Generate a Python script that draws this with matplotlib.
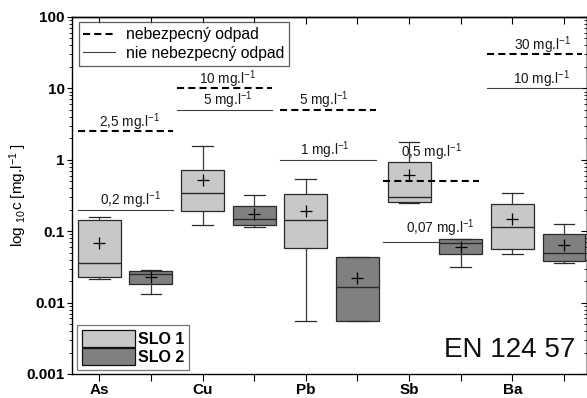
import matplotlib
matplotlib.use("Agg")
import matplotlib.pyplot as plt
from matplotlib.lines import Line2D
from matplotlib.patches import Patch
from matplotlib.ticker import NullFormatter

plt.rcParams['font.family'] = ['Liberation Sans', 'DejaVu Sans']
plt.rcParams['mathtext.fontset'] = 'custom'
plt.rcParams['mathtext.rm'] = 'Liberation Sans'
plt.rcParams['mathtext.it'] = 'Liberation Sans:italic'
plt.rcParams['mathtext.bf'] = 'Liberation Sans:bold'

# Leachate concentrations (mg/l), EN 12457 test
elements = ["As", "Cu", "Pb", "Sb", "Ba"]

slo1_whislo = [0.0216, 0.123, 0.00547, 0.25, 0.048]
slo1_q1 = [0.0226, 0.19, 0.0587, 0.259, 0.0558]
slo1_med = [0.0359, 0.346, 0.1435, 0.30, 0.1156]
slo1_q3 = [0.142, 0.72, 0.329, 0.917, 0.24]
slo1_whishi = [0.157, 1.58, 0.538, 1.8, 0.343]
slo1_mean = [0.0676, 0.516, 0.194, 0.61, 0.147]

slo2_whislo = [0.0131, 0.1135, 0.00547, 0.0318, 0.0359]
slo2_q1 = [0.0184, 0.121, 0.00547, 0.0474, 0.0387]
slo2_med = [0.025, 0.148, 0.0165, 0.0676, 0.0496]
slo2_q3 = [0.0277, 0.223, 0.0435, 0.0778, 0.0923]
slo2_whishi = [0.0283, 0.321, 0.0435, 0.079, 0.127]
slo2_mean = [0.0231, 0.172, 0.0222, 0.0607, 0.0635]

# Landfill acceptance limits (mg/l)
limit_hazardous = [2.5, 10, 5, 0.5, 30]
limit_nonhazardous = [0.2, 5, 1, 0.07, 10]
limit_hazardous_text = ["2,5", "10", "5", "0,5", "30"]
limit_nonhazardous_text = ["0,2", "5", "1", "0,07", "10"]

ytick_values = [0.001, 0.01, 0.1, 1, 10, 100]
ytick_labels = ["0.001", "0.01", "0.1", "1", "10", "100"]

W, H = 587, 398
fig = plt.figure(figsize=(W / 100, H / 100), dpi=100)
ax = fig.add_axes([71.5 / W, 1 - 374 / H, 515 / W, 357 / H])

pos1 = [2 * i for i in range(len(elements))]
pos2 = [2 * i + 1 for i in range(len(elements))]


def make_stats(lo, q1, med, q3, hi, mean):
    return [dict(whislo=a, q1=b, med=c, q3=d, whishi=e, mean=f, fliers=[])
            for a, b, c, d, e, f in zip(lo, q1, med, q3, hi, mean)]


edge = '#2a2a2a'
common = dict(widths=0.83, capwidths=0.4, showmeans=True, patch_artist=True,
              manage_ticks=False,
              medianprops=dict(color=edge, linewidth=1.0),
              whiskerprops=dict(color='#3a3a3a', linewidth=0.9),
              capprops=dict(color='#2a2a2a', linewidth=0.9),
              meanprops=dict(marker='+', markeredgecolor='black',
                             markersize=9, markeredgewidth=0.9))

ax.bxp(make_stats(slo1_whislo, slo1_q1, slo1_med, slo1_q3, slo1_whishi, slo1_mean),
       positions=pos1,
       boxprops=dict(facecolor='#c8c8c8', edgecolor=edge, linewidth=0.9),
       **common)
ax.bxp(make_stats(slo2_whislo, slo2_q1, slo2_med, slo2_q3, slo2_whishi, slo2_mean),
       positions=pos2,
       boxprops=dict(facecolor='#808080', edgecolor=edge, linewidth=0.9),
       **common)

# limit lines with their labels
seg_start = [-0.42, 1.5, 3.5, 5.5, 7.5]
seg_len = 1.85
label_x = [0.58, 2.48, 4.35, 6.44, 8.58]
label_x_nh = [0.6, 2.48, 4.36, 6.6, 8.56]
haz_offset = [3.3, 3.3, 3.3, 17.5, 3.3]
nh_offset = [3.3, 3.3, 3.3, 6.5, 3.3]
dash = (0, (3.4, 2.0))
for i in range(len(elements)):
    x0, x1 = seg_start[i], seg_start[i] + seg_len
    ax.plot([x0, x1], [limit_hazardous[i]] * 2, color='black', lw=1.5,
            linestyle=dash, zorder=4, clip_on=True)
    ax.plot([x0, x1], [limit_nonhazardous[i]] * 2, color='#404040', lw=0.8,
            zorder=1.5)
    ax.annotate(f"{limit_hazardous_text[i]} mg.l$^{{-1}}$",
                xy=(label_x[i], limit_hazardous[i]), xytext=(0, haz_offset[i]),
                textcoords='offset points', ha='center', va='baseline',
                fontsize=9.8, color='#1a1a1a', zorder=5)
    ax.annotate(f"{limit_nonhazardous_text[i]} mg.l$^{{-1}}$",
                xy=(label_x_nh[i], limit_nonhazardous[i]), xytext=(0, nh_offset[i]),
                textcoords='offset points', ha='center', va='baseline',
                fontsize=9.8, color='#1a1a1a', zorder=5)

ax.set_yscale('log')
ax.set_ylim(0.001, 100)
ax.set_xlim(-0.538, 9.436)

ax.set_yticks(ytick_values)
ax.set_yticklabels(ytick_labels, fontsize=11, fontweight='bold')
ax.yaxis.set_minor_formatter(NullFormatter())
ax.tick_params(axis='y', which='major', direction='out', length=3.8, width=0.8, pad=1)
ax.tick_params(axis='y', which='minor', direction='out', length=1.9, width=0.6)

xt_labels = []
for e in elements:
    xt_labels += [e, ""]
ax.set_xticks(range(len(xt_labels)))
ax.set_xticklabels(xt_labels, fontsize=11, fontweight='bold')
ax.tick_params(axis='x', direction='out', length=4.8, width=0.8, pad=2)

for s in ax.spines.values():
    s.set_linewidth(1.0)

top = ax.secondary_xaxis('top')
top.set_xticks(range(len(xt_labels)))
top.tick_params(direction='in', length=4.8, width=0.8, labeltop=False)
top.spines['top'].set_linewidth(1.0)

right = ax.secondary_yaxis('right')
right.set_yticks(ytick_values)
right.tick_params(which='major', direction='in', length=4.0, width=0.8, labelright=False)
right.tick_params(which='minor', direction='in', length=2.2, width=0.6, labelright=False)
right.yaxis.set_minor_formatter(NullFormatter())
right.spines['right'].set_linewidth(1.0)

ax.set_ylabel("log $_{10}$c [mg.l$^{-1}$ ]", fontsize=11)
ax.yaxis.set_label_coords(-42 / 515, 0.5)

ax.text(0.978, 0.0485, "EN 124 57", transform=ax.transAxes, ha='right',
        va='baseline', fontsize=20, color='#111111')

leg1 = ax.legend(
    handles=[Line2D([], [], color='black', lw=1.5, linestyle=dash),
             Line2D([], [], color='#404040', lw=0.8)],
    labels=["nebezpecný odpad", "nie nebezpecný odpad"],
    loc='upper left', bbox_to_anchor=(0.014, 0.985), borderaxespad=0,
    fontsize=11.3, frameon=True, fancybox=False, edgecolor='#333333',
    handlelength=2.0, labelspacing=0.25, borderpad=0.3, handletextpad=0.7)
leg1.get_frame().set_linewidth(0.9)
ax.add_artist(leg1)

leg2 = ax.legend(
    handles=[Patch(facecolor='#c8c8c8', edgecolor='#111111', linewidth=0.9),
             Patch(facecolor='#808080', edgecolor='#111111', linewidth=0.9)],
    labels=["SLO 1", "SLO 2"],
    loc='lower left', bbox_to_anchor=(0.0113, 0.0112), borderaxespad=0,
    prop=dict(size=11.5, weight='bold'), frameon=True, fancybox=False,
    edgecolor='#555555', handlelength=3.3, handleheight=1.25,
    labelspacing=0.1, borderpad=0.3, handletextpad=0.2)
leg2.get_frame().set_linewidth(0.9)

fig.savefig("out.png", dpi=100)
